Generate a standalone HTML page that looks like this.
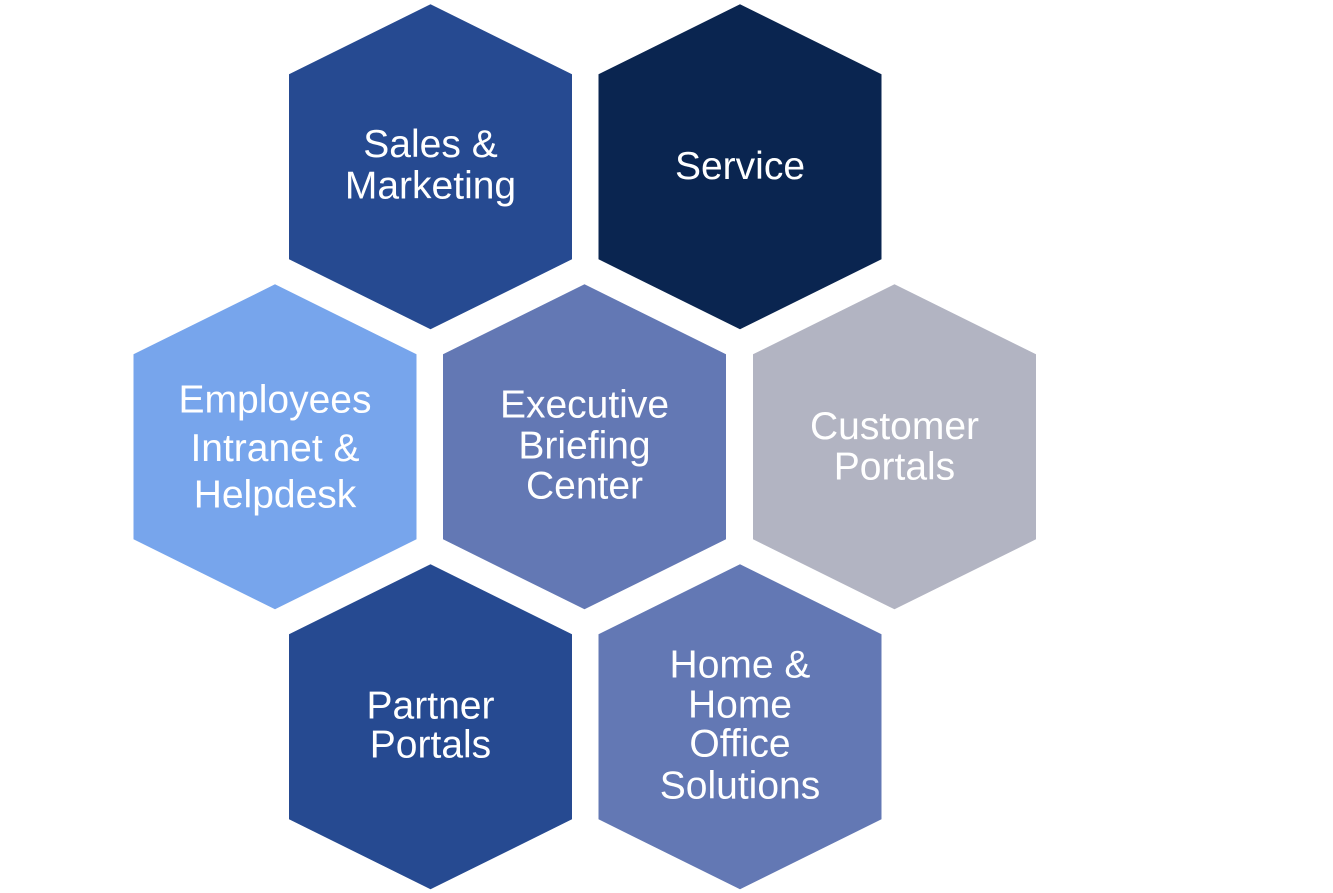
<!DOCTYPE html>
<html>
<head>
<meta charset="utf-8">
<style>
  html, body { margin: 0; padding: 0; background: #ffffff; }
  body { width: 1333px; height: 893px; overflow: hidden; }
  svg { display: block; }
  text { font-family: "Liberation Sans", Arial, sans-serif; font-size: 39px; fill: #ffffff; text-anchor: middle; }
</style>
</head>
<body>
<svg width="1333" height="893" viewBox="0 0 1333 893" xmlns="http://www.w3.org/2000/svg">
  <!-- Row 1 -->
  <polygon points="430.5,4.3 572,74.3 572,259.3 430.5,329.3 289,259.3 289,74.3" fill="#264A91"/>
  <polygon points="740,4.3 881.5,74.3 881.5,259.3 740,329.3 598.5,259.3 598.5,74.3" fill="#0A2550"/>
  <!-- Row 2 -->
  <polygon points="275,284.3 416.5,354.3 416.5,539.3 275,609.3 133.5,539.3 133.5,354.3" fill="#77A5EC"/>
  <polygon points="584.5,284.3 726,354.3 726,539.3 584.5,609.3 443,539.3 443,354.3" fill="#6378B4"/>
  <polygon points="894.5,284.3 1036,354.3 1036,539.3 894.5,609.3 753,539.3 753,354.3" fill="#B2B4C2"/>
  <!-- Row 3 -->
  <polygon points="430.5,564.3 572,634.3 572,819.3 430.5,889.3 289,819.3 289,634.3" fill="#264A91"/>
  <polygon points="740,564.3 881.5,634.3 881.5,819.3 740,889.3 598.5,819.3 598.5,634.3" fill="#6378B4"/>

  <!-- Labels -->
  <text x="430.5" y="157">Sales &amp;</text>
  <text x="430.5" y="198.5">Marketing</text>

  <text x="740" y="179">Service</text>

  <text x="275" y="412.5">Employees</text>
  <text x="275" y="461">Intranet &amp;</text>
  <text x="275" y="507.5">Helpdesk</text>

  <text x="584.5" y="417.5">Executive</text>
  <text x="584.5" y="458.5">Briefing</text>
  <text x="584.5" y="498.5">Center</text>

  <text x="894.5" y="439">Customer</text>
  <text x="894.5" y="479.5">Portals</text>

  <text x="430.5" y="718.5">Partner</text>
  <text x="430.5" y="757.5">Portals</text>

  <text x="740" y="677.5">Home &amp;</text>
  <text x="740" y="717.5">Home</text>
  <text x="740" y="756.5">Office</text>
  <text x="740" y="798.5">Solutions</text>
</svg>
</body>
</html>
